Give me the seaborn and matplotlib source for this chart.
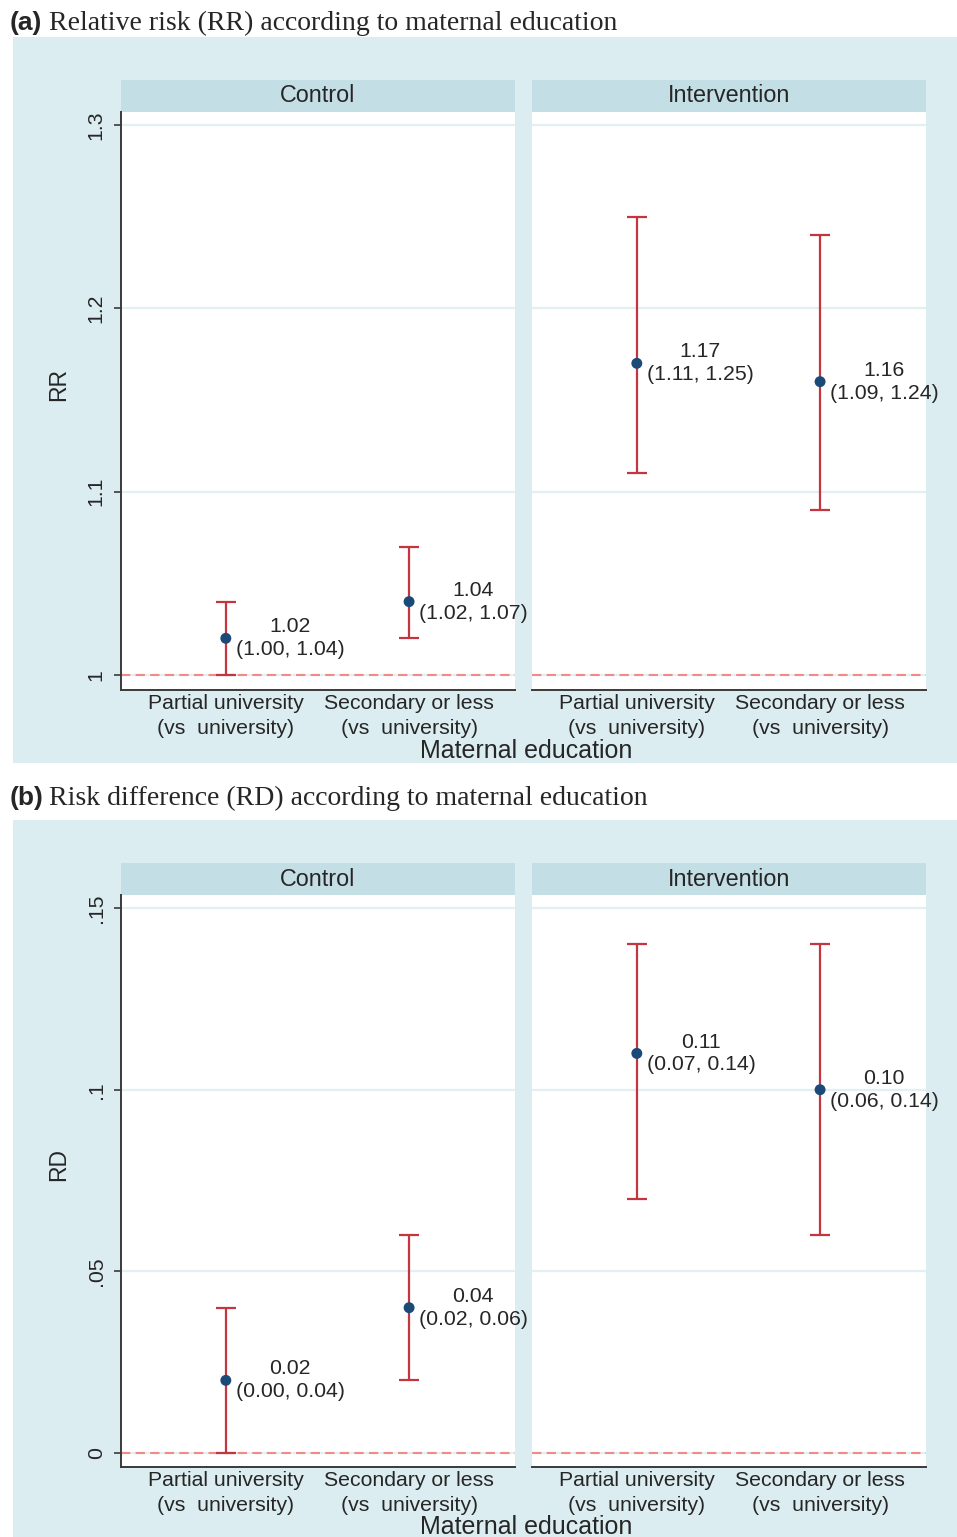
import numpy as np
import pandas as pd
import matplotlib
matplotlib.use("Agg")
import matplotlib.pyplot as plt
import seaborn as sns
from matplotlib.patches import Rectangle

# ---------------- data ----------------
groups = ["Control", "Control", "Intervention", "Intervention"]
categories = ["Partial university\n(vs  university)", "Secondary or less\n(vs  university)"]
cat_of_row = [0, 1, 0, 1]

rr_est = [1.02, 1.04, 1.17, 1.16]
rr_lo = [1.00, 1.02, 1.11, 1.09]
rr_hi = [1.04, 1.07, 1.25, 1.24]

rd_est = [0.02, 0.04, 0.11, 0.10]
rd_lo = [0.00, 0.02, 0.07, 0.06]
rd_hi = [0.04, 0.06, 0.14, 0.14]

rr_ticks = [1.0, 1.1, 1.2, 1.3]
rr_ticklabels = ["1", "1.1", "1.2", "1.3"]
rd_ticks = [0.0, 0.05, 0.10, 0.15]
rd_ticklabels = ["0", ".05", ".1", ".15"]

titles = ["Relative risk (RR) according to maternal education",
          "Risk difference (RD) according to maternal education"]
tags = ["(a)", "(b)"]
ylabels = ["RR", "RD"]
xlabel = "Maternal education"

# ---------------- style ----------------
sns.set_style("white")
plt.rcParams["font.family"] = ["Liberation Sans", "DejaVu Sans"]

BG = "#dcedf1"
HDR = "#c4dee5"
GRID = "#e2f0f4"
RED = "#c4363f"
REF = "#f28a86"
NAVY = "#1b4a78"
SPINE = "#3a3a3a"
FS = 15.3

W, H = 957, 1537
fig = plt.figure(figsize=(W / 100, H / 100), dpi=100)


def fax(x0, y0, x1, y1):
    return fig.add_axes([x0 / W, 1 - y1 / H, (x1 - x0) / W, (y1 - y0) / H])


def fy(y):
    return 1 - y / H


panels = [
    dict(est=rr_est, lo=rr_lo, hi=rr_hi, ticks=rr_ticks, tl=rr_ticklabels, ref=1.0,
         bg=(13, 37, 957, 763), hdr=(80, 112), ax=(112, 690), title_y=30, xl_y=751,
         ylim=(0.9918, 1.3071)),
    dict(est=rd_est, lo=rd_lo, hi=rd_hi, ticks=rd_ticks, tl=rd_ticklabels, ref=0.0,
         bg=(13, 820, 957, 1537), hdr=(863, 895), ax=(895, 1467), title_y=805, xl_y=1527,
         ylim=(-0.00385, 0.1536)),
]
facet_x = {"Control": (121, 515), "Intervention": (532, 926)}

for pi, p in enumerate(panels):
    bx0, by0, bx1, by1 = p["bg"]
    fig.patches.append(Rectangle((bx0 / W, fy(by1)), (bx1 - bx0) / W, (by1 - by0) / H,
                                 transform=fig.transFigure, facecolor=BG,
                                 edgecolor="none", zorder=-10))
    fig.text(10 / W, fy(p["title_y"]), tags[pi], fontsize=19, fontweight="bold",
             va="baseline", ha="left", family=["Liberation Sans"])
    fig.text(49 / W, fy(p["title_y"]), titles[pi], fontsize=20,
             va="baseline", ha="left", family=["Liberation Serif"])

    df = pd.DataFrame({"group": groups, "xpos": cat_of_row,
                       "est": p["est"], "lo": p["lo"], "hi": p["hi"]})

    for gi, g in enumerate(["Control", "Intervention"]):
        x0, x1 = facet_x[g]
        # header strip
        hax = fax(x0, p["hdr"][0], x1, p["hdr"][1])
        hax.set_facecolor(HDR)
        hax.set_xticks([])
        hax.set_yticks([])
        for s in hax.spines.values():
            s.set_visible(False)
        hax.text(0.5, 0.5, g, ha="center", va="center", fontsize=16.8,
                 transform=hax.transAxes)

        ax = fax(x0, p["ax"][0], x1, p["ax"][1])
        ax.set_facecolor("white")
        sub = df[df.group == g]

        ax.axhline(p["ref"], color=REF, ls=(0, (4.5, 2.5)), lw=1.5, zorder=2)
        ax.errorbar(sub.xpos, sub.est, yerr=[sub.est - sub.lo, sub.hi - sub.est],
                    fmt="none", ecolor=RED, elinewidth=1.6, capsize=7, capthick=1.6,
                    zorder=3)
        sns.scatterplot(data=sub, x="xpos", y="est", ax=ax, color=NAVY, s=62,
                        edgecolor="none", zorder=4, legend=False)
        for _, r in sub.iterrows():
            ax.annotate(f"{r.est:.2f}\n({r.lo:.2f}, {r.hi:.2f})", (r.xpos, r.est),
                        xytext=(7, 0), textcoords="offset points", ha="left",
                        va="center", fontsize=FS, linespacing=1.25,
                        multialignment="center", zorder=5, annotation_clip=False)

        ax.set_xlim(-0.572, 1.578)
        ax.set_ylim(*p["ylim"])
        ax.set_xticks([0, 1])
        ax.set_xticklabels(categories, fontsize=FS, linespacing=1.4)
        ax.tick_params(axis="x", length=0, pad=3)
        ax.set_yticks(p["ticks"])
        ax.yaxis.grid(True, color=GRID, lw=1.6)
        ax.xaxis.grid(False)
        ax.set_axisbelow(True)
        ax.set_xlabel("")
        for s in ["top", "right"]:
            ax.spines[s].set_visible(False)
        ax.spines["bottom"].set_color(SPINE)
        ax.spines["bottom"].set_linewidth(1.4)
        if g == "Control":
            ax.set_yticklabels(p["tl"], rotation=90, va="center", fontsize=FS)
            ax.tick_params(axis="y", length=5, width=1.2, color=SPINE, pad=6, left=True)
            ax.spines["left"].set_color(SPINE)
            ax.spines["left"].set_linewidth(1.4)
            ax.set_ylabel(ylabels[pi], fontsize=16.5)
            ax.yaxis.set_label_coords(-0.13, 0.528)
        else:
            ax.set_yticklabels([])
            ax.tick_params(axis="y", length=0, left=False)
            ax.spines["left"].set_visible(False)
            ax.set_ylabel("")

    fig.text(526 / W, fy(p["xl_y"]), xlabel, ha="center", va="center", fontsize=18)

fig.savefig("out.png", dpi=100)
